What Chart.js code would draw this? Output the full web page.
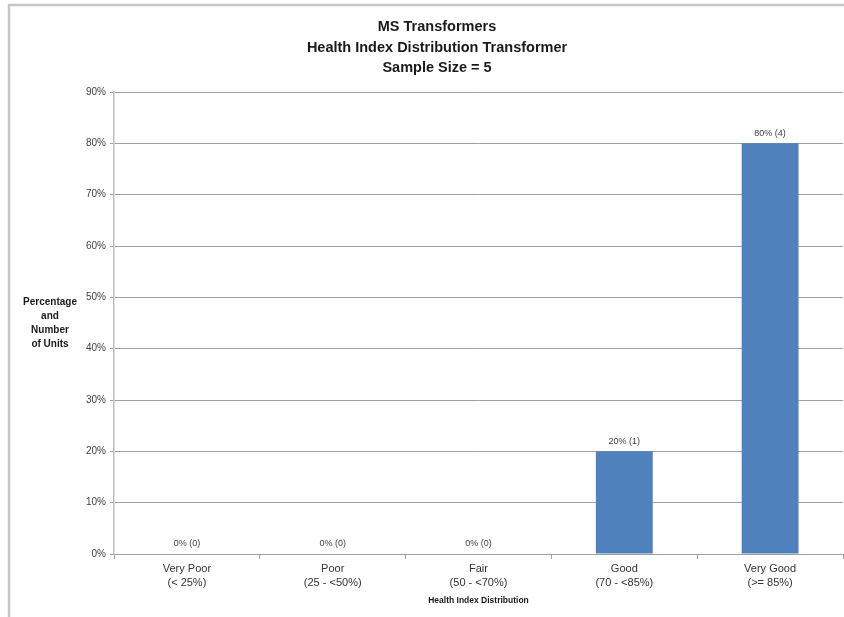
<!DOCTYPE html>
<html>
<head>
<meta charset="utf-8">
<title>MS Transformers - Health Index Distribution</title>
<script src="https://cdn.jsdelivr.net/npm/chart.js@4"></script>
<style>
  html, body { margin: 0; padding: 0; background: #fff; }
  #wrap { width: 844px; height: 617px; }
</style>
</head>
<body>
<div id="wrap"><canvas id="hiChart" width="844" height="617"></canvas></div>
<script>
// Health index bands and the share of units in each
const categories = [
    ['Very Poor', '(< 25%)'],
    ['Poor', '(25 - <50%)'],
    ['Fair', '(50 - <70%)'],
    ['Good', '(70 - <85%)'],
    ['Very Good', '(>= 85%)']
];
const percentages = [0, 0, 0, 20, 80];
const unitCounts = [0, 0, 0, 1, 4];
const yTicks = [0, 10, 20, 30, 40, 50, 60, 70, 80, 90];

const titleLines = ['MS Transformers', 'Health Index Distribution Transformer', 'Sample Size = 5'];
const yTitleLines = ['Percentage', 'and', 'Number', 'of Units'];
const xTitle = 'Health Index Distribution';

const FONT = '"Liberation Sans", Arial, sans-serif';

// frame, headings and value labels drawn straight on the canvas
const decor = {
    id: 'decor',
    beforeDraw(chart) {
        const ctx = chart.ctx;
        ctx.save();
        ctx.fillStyle = '#ffffff';
        ctx.fillRect(0, 0, chart.width, chart.height);
        ctx.strokeStyle = '#c6c6c6';
        ctx.lineWidth = 2.5;
        ctx.beginPath();
        ctx.moveTo(9, chart.height);
        ctx.lineTo(9, 5);
        ctx.lineTo(chart.width, 5);
        ctx.stroke();
        ctx.restore();
    },
    afterDraw(chart) {
        const ctx = chart.ctx;
        const area = chart.chartArea;
        ctx.save();
        ctx.fillStyle = '#1a1a1a';
        ctx.textAlign = 'center';
        ctx.textBaseline = 'middle';
        ctx.font = 'bold 14.5px ' + FONT;
        titleLines.forEach((t, i) => ctx.fillText(t, 437, 27 + i * 20.5));

        ctx.font = 'bold 10px ' + FONT;
        const midY = (area.top + area.bottom) / 2;
        const lh = 14;
        const y0 = midY - (yTitleLines.length - 1) * lh / 2;
        yTitleLines.forEach((t, i) => ctx.fillText(t, 50, y0 + i * lh));
        ctx.restore();
    },
    afterDatasetsDraw(chart) {
        const ctx = chart.ctx;
        const bars = chart.getDatasetMeta(0).data;
        ctx.save();
        ctx.fillStyle = '#404040';
        ctx.font = '9px ' + FONT;
        ctx.textAlign = 'center';
        ctx.textBaseline = 'middle';
        bars.forEach((bar, i) => {
            ctx.fillText(percentages[i] + '% (' + unitCounts[i] + ')', bar.x, bar.y - 10);
        });
        ctx.restore();
    }
};

const ctx = document.getElementById('hiChart').getContext('2d');
new Chart(ctx, {
    type: 'bar',
    data: {
        labels: categories,
        datasets: [{
            data: percentages,
            backgroundColor: '#4f81bd',
            borderWidth: 0,
            barPercentage: 0.39,
            categoryPercentage: 1
        }]
    },
    options: {
        responsive: false,
        animation: false,
        devicePixelRatio: 1,
        layout: { padding: { top: 92, left: 0, right: 1, bottom: 0 } },
        plugins: {
            legend: { display: false },
            tooltip: { enabled: false }
        },
        scales: {
            x: {
                offset: true,
                grid: {
                    offset: true,
                    drawOnChartArea: false,
                    drawTicks: true,
                    tickLength: 5,
                    color: '#a0a0a0'
                },
                border: { color: '#a0a0a0', width: 1 },
                ticks: {
                    color: '#333333',
                    padding: 3,
                    maxRotation: 0,
                    autoSkip: false,
                    font: { family: FONT, size: 11, lineHeight: 1.25 }
                },
                title: {
                    display: true,
                    text: xTitle,
                    color: '#1a1a1a',
                    font: { family: FONT, size: 8.5, weight: 'bold' },
                    padding: { top: 0, bottom: 11 }
                },
                afterFit(scale) { scale.height = 63; }
            },
            y: {
                min: 0,
                max: 90,
                afterBuildTicks(scale) {
                    scale.ticks = yTicks.map(v => ({ value: v }));
                },
                grid: {
                    color: '#a0a0a0',
                    tickLength: 4
                },
                border: { color: '#bdbdbd', width: 1.5 },
                ticks: {
                    color: '#404040',
                    padding: 4,
                    font: { family: FONT, size: 10 },
                    callback: v => v + '%'
                },
                afterFit(scale) { scale.width = 114; }
            }
        }
    },
    plugins: [decor]
});
</script>
</body>
</html>
